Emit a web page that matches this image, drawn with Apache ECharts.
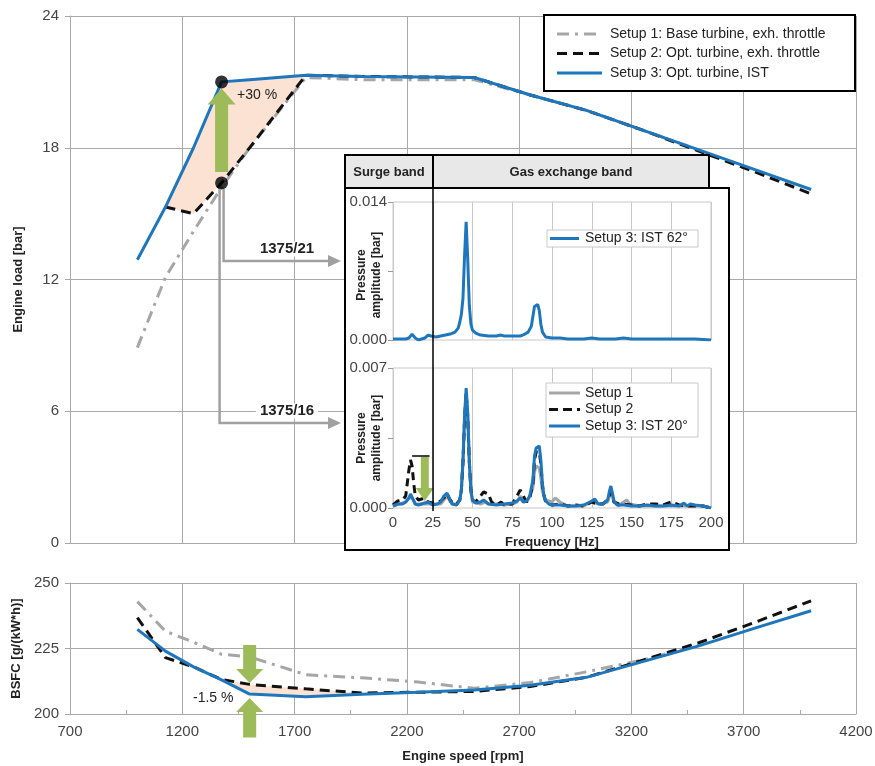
<!DOCTYPE html>
<html><head><meta charset="utf-8">
<script src="https://cdn.jsdelivr.net/npm/echarts@6/dist/echarts.min.js"></script>
<style>html,body{margin:0;padding:0;background:#fff}#c{width:875px;height:766px}</style>
</head><body><div id="c"></div>
<script>
// ---------- DATA ----------
const speedTicks = [700, 4200, 500];          // min, max, step (rpm)
const loadTicks = [0, 24, 6];                 // bar
const bsfcTicks = [200, 250, 25];             // g/(kW*h)
const freqTicks = [0, 200, 25];               // Hz
const ampTicksTop = [0, 0.014, 0.007];
const ampTicksBot = [0, 0.007, 0.0035];

const speedLoad  = [1000, 1125, 1250, 1375, 1500, 1750, 2000, 2500, 2750, 3000, 3250, 3500, 3750, 4000];
const loadSetup1 = [8.9, 12.1, 14.2, 16.2, 18.0, 21.2, 21.1, 21.1, 20.4, 19.7, 18.8, 17.9, null, null];
const loadSetup2 = [null, 15.3, 15.0, 16.4, 18.0, 21.3, 21.25, 21.2, 20.4, 19.7, 18.8, 17.85, 16.9, 15.9];
const loadSetup3 = [12.9, 15.3, 18.0, 21.0, 21.1, 21.3, 21.25, 21.2, 20.4, 19.7, 18.8, 17.9, 17.0, 16.1];

const speedBsfc  = [1000, 1125, 1250, 1375, 1500, 1750, 2000, 2250, 2500, 2750, 3000, 3250, 3500, 3750, 4000];
const bsfcSetup1 = [242.9, 231.6, 227.4, 222.8, 221.8, 215.0, 213.8, 212.2, 209.8, 212.0, 216.1, 220.6, 226.4, null, null];
const bsfcSetup2 = [236.8, 221.5, 218.0, 213.2, 211.3, 209.6, 208.0, 208.3, 208.6, 210.5, 214.0, 220.5, 227.2, 235.0, 243.2];
const bsfcSetup3 = [232.3, 224.0, 218.0, 213.0, 207.6, 206.6, 207.5, 208.3, 209.2, 211.0, 214.0, 220.0, 226.0, 232.8, 239.4];

const loadPoints = [[1375, 21.0], [1375, 16.4]];           // marked operating points
const loadArrow  = [[1375, 16.9, 20.7]];                    // speed, from, to
const bsfcArrows = [[1500, 226.3, 211.8], [1500, 191.0, 206.1]];
const surgeArrow = [[20, 0.00255, 0.00035]];
const surgeMark  = [[12, 0.0026], [23, 0.0026]];

const ist62 = [[0,0.0001],[5,0.0001],[8,0.0001],[10,0.0002],[12,0.0006],[14,0.0002],[16,0.0],[18,0.0001],[20,0.0002],[22,0.0005],[24,0.0004],[27,0.0003],[30,0.0004],[33,0.0005],[36,0.0006],[39,0.0008],[41,0.0012],[42,0.0018],[43,0.0026],[44,0.0042],[45,0.0085],[46,0.0120],[47,0.0082],[48,0.0035],[49,0.0016],[50,0.0010],[52,0.0007],[55,0.0005],[60,0.0004],[65,0.0004],[68,0.0005],[70,0.0004],[75,0.0004],[80,0.0004],[83,0.0006],[85,0.0008],[87,0.0014],[88,0.0024],[89,0.0034],[90,0.0036],[91,0.0036],[92,0.0030],[93,0.0016],[94,0.0008],[96,0.0003],[100,0.0002],[105,0.0002],[110,0.0001],[115,0.0001],[120,0.0001],[125,0.0002],[130,0.0001],[135,0.0001],[140,0.0001],[145,0.0002],[150,0.0001],[160,0.0001],[170,0.0001],[180,0.0001],[190,0.0001],[200,0.0]];

const spec1 = [[0,0.0001],[4,0.0002],[8,0.0003],[10,0.0005],[11,0.0006],[12,0.0005],[14,0.0002],[17,0.0002],[20,0.0002],[25,0.0002],[30,0.0002],[32,0.0004],[34,0.0006],[36,0.0003],[40,0.00015],[42,0.0004],[43,0.0009],[44,0.0022],[45,0.0043],[46,0.0056],[47,0.0045],[48,0.0022],[49,0.0008],[50,0.0003],[55,0.0002],[58,0.0003],[60,0.0002],[65,0.0002],[70,0.00015],[75,0.0002],[78,0.0003],[80,0.0006],[82,0.0003],[85,0.0004],[88,0.0010],[89,0.0018],[90,0.0021],[91,0.0022],[92,0.0020],[93,0.0015],[94,0.0008],[96,0.0004],[100,0.0003],[102,0.0005],[103,0.0006],[105,0.0003],[110,0.0001],[120,0.0001],[125,0.0003],[130,0.0002],[135,0.0003],[137,0.0008],[139,0.0003],[142,0.0001],[145,0.0003],[147,0.0004],[149,0.0002],[155,0.0001],[165,0.0001],[175,0.0001],[185,0.0001],[195,0.0001],[200,0.0]];

const spec2 = [[0,0.00015],[3,0.00035],[6,0.0004],[8,0.0006],[9,0.00125],[10,0.0019],[11,0.0024],[12,0.0021],[13,0.00125],[14,0.0006],[16,0.0004],[18,0.00045],[20,0.0005],[22,0.0003],[25,0.00025],[28,0.0003],[30,0.00035],[32,0.0005],[34,0.0007],[36,0.0004],[38,0.0002],[40,0.0002],[42,0.0004],[43,0.0009],[44,0.0023],[45,0.0044],[46,0.0058],[47,0.0046],[48,0.0023],[49,0.0009],[50,0.0004],[52,0.0003],[55,0.0006],[57,0.0008],[58,0.0009],[60,0.0007],[62,0.0003],[65,0.00015],[68,0.0003],[70,0.00015],[75,0.0002],[78,0.0006],[80,0.0009],[82,0.0006],[84,0.0003],[86,0.0005],[88,0.0012],[89,0.0024],[90,0.0028],[91,0.0029],[92,0.0028],[93,0.0022],[94,0.0011],[95,0.0006],[96,0.0003],[98,0.0002],[100,0.00015],[105,0.0002],[110,0.0001],[115,0.00015],[120,0.0001],[125,0.0003],[128,0.0002],[132,0.0002],[135,0.0004],[137,0.0008],[139,0.0003],[142,0.0002],[145,0.0002],[150,0.00015],[155,0.0001],[160,0.0002],[165,0.0002],[170,0.00015],[175,0.0003],[180,0.00015],[185,0.0001],[190,0.0001],[195,0.0001],[200,0.0]];

const spec3 = [[0,0.0001],[3,0.0002],[6,0.0002],[8,0.0003],[10,0.0005],[11,0.0007],[12,0.0006],[14,0.0002],[16,0.00015],[18,0.0002],[20,0.00025],[22,0.0003],[25,0.00015],[28,0.0002],[30,0.0003],[32,0.0006],[34,0.00075],[35,0.0007],[37,0.0002],[40,0.00015],[42,0.0004],[43,0.0009],[44,0.0024],[45,0.0046],[46,0.0060],[47,0.0048],[48,0.0024],[49,0.0009],[50,0.0004],[52,0.00025],[55,0.0003],[57,0.0004],[58,0.00035],[60,0.0002],[65,0.00015],[70,0.0002],[75,0.00025],[78,0.00035],[80,0.0005],[82,0.0003],[84,0.00035],[86,0.0006],[88,0.0014],[89,0.0026],[90,0.0030],[91,0.0031],[92,0.0031],[93,0.0024],[94,0.0012],[95,0.0006],[96,0.00035],[98,0.0002],[100,0.00015],[105,0.00015],[110,0.0001],[115,0.0001],[120,0.00015],[125,0.00035],[127,0.00045],[129,0.0002],[132,0.0002],[135,0.0004],[136,0.0008],[137,0.0011],[138,0.00075],[139,0.00035],[141,0.00015],[145,0.00015],[150,0.0001],[155,0.0001],[160,0.00015],[165,0.0001],[170,0.0001],[175,0.00015],[180,0.0001],[183,0.00025],[185,0.0001],[187,0.0002],[190,0.00015],[195,0.0001],[200,0.0]];

const legendMain = ['Setup 1: Base turbine, exh. throttle', 'Setup 2: Opt. turbine, exh. throttle', 'Setup 3: Opt. turbine, IST'];
const legendTop = ['Setup 3: IST 62°'];
const legendBot = ['Setup 1', 'Setup 2', 'Setup 3: IST 20°'];

// ---------- STYLE ----------
const FONT = '"Liberation Sans", Arial, sans-serif';
const C1 = '#A6A6A6', C2 = '#111111', C3 = '#1E77BD', GREEN = '#9DBB59', PEACH = '#FBE2D3';
const GRIDC = '#A8A8A8', CALL = '#A0A0A0';
const D1 = [12, 6, 3, 6], D2 = [10, 6];

const pairs = (xs, ys) => xs.map((x, i) => [x, ys[i]]).filter(p => p[1] != null);
const plain = v => String(v);

function arrowRender(shaft, head, headLen) {
  return function (params, api) {
    const x = api.value(0), v0 = api.value(1), v1 = api.value(2);
    const p0 = api.coord([x, v0]), p1 = api.coord([x, v1]);
    const dir = p1[1] < p0[1] ? -1 : 1;
    const cx = p0[0], yb = p1[1] - dir * headLen;
    const pts = [[cx - shaft / 2, p0[1]], [cx - shaft / 2, yb], [cx - head / 2, yb], [cx, p1[1]],
                 [cx + head / 2, yb], [cx + shaft / 2, yb], [cx + shaft / 2, p0[1]]];
    return { type: 'polygon', shape: { points: pts }, style: { fill: GREEN } };
  };
}
function shadeRender(xs, aYs, bYs, i0, i1) {
  return function (params, api) {
    const pts = [];
    for (let i = i0; i <= i1; i++) pts.push(api.coord([xs[i], aYs[i]]));
    for (let i = i1; i >= i0; i--) pts.push(api.coord([xs[i], bYs[i]]));
    return { type: 'polygon', shape: { points: pts }, style: { fill: PEACH } };
  };
}

const lbl = (size, extra) => Object.assign({ color: '#444', fontSize: size, fontFamily: FONT }, extra || {});
const nameStyle = { color: '#222', fontSize: 13, fontWeight: 'bold', fontFamily: FONT };

const chart = echarts.init(document.getElementById('c'), null, { renderer: 'canvas' });

const option = {
  animation: false,
  backgroundColor: '#fff',
  grid: [
    { left: 70, top: 16, width: 786, height: 527, outerBoundsMode: 'none' },
    { left: 70, top: 583, width: 786, height: 131, outerBoundsMode: 'none' },
    { left: 393, top: 202, width: 318, height: 138, show: true, borderColor: '#c8c8c8', borderWidth: 1, backgroundColor: 'rgba(0,0,0,0)', z: 50, outerBoundsMode: 'none' },
    { left: 393, top: 368, width: 318, height: 140, show: true, borderColor: '#c8c8c8', borderWidth: 1, backgroundColor: 'rgba(0,0,0,0)', z: 50, outerBoundsMode: 'none' }
  ],
  xAxis: [
    { gridIndex: 0, type: 'value', min: speedTicks[0], max: speedTicks[1], interval: speedTicks[2],
      axisLabel: { show: false }, axisTick: { show: false },
      axisLine: { show: true, lineStyle: { color: GRIDC } },
      splitLine: { show: true, lineStyle: { color: GRIDC, width: 1 } } },
    { gridIndex: 1, type: 'value', min: speedTicks[0], max: speedTicks[1], interval: speedTicks[2],
      name: 'Engine speed [rpm]', nameLocation: 'middle', nameGap: 36, nameTextStyle: nameStyle,
      axisLabel: lbl(15, { margin: 10, formatter: plain }),
      axisTick: { show: true, inside: true, length: 4, lineStyle: { color: GRIDC } },
      minorTick: { show: true, splitNumber: 2, length: 4, lineStyle: { color: GRIDC } },
      axisLine: { show: true, lineStyle: { color: GRIDC } },
      splitLine: { show: true, lineStyle: { color: GRIDC, width: 1 } } },
    { gridIndex: 2, type: 'value', min: freqTicks[0], max: freqTicks[1], interval: freqTicks[2], z: 50,
      axisLabel: { show: false }, axisTick: { show: false }, axisLine: { show: false },
      splitLine: { show: true, lineStyle: { color: '#c8c8c8' } } },
    { gridIndex: 3, type: 'value', min: freqTicks[0], max: freqTicks[1], interval: freqTicks[2], z: 50,
      name: 'Frequency [Hz]', nameLocation: 'middle', nameGap: 28, nameTextStyle: nameStyle,
      axisLabel: lbl(15, { margin: 7, formatter: plain }), axisTick: { show: false }, axisLine: { show: false },
      splitLine: { show: true, lineStyle: { color: '#c8c8c8' } } }
  ],
  yAxis: [
    { gridIndex: 0, type: 'value', min: loadTicks[0], max: loadTicks[1], interval: loadTicks[2],
      name: 'Engine load [bar]', nameLocation: 'middle', nameGap: 45, nameTextStyle: nameStyle,
      axisLabel: lbl(15, { margin: 11, formatter: plain }),
      axisTick: { show: true, length: 5, lineStyle: { color: GRIDC } },
      axisLine: { show: true, lineStyle: { color: GRIDC } },
      splitLine: { show: true, lineStyle: { color: GRIDC, width: 1 } } },
    { gridIndex: 1, type: 'value', min: bsfcTicks[0], max: bsfcTicks[1], interval: bsfcTicks[2],
      name: 'BSFC [g/(kW*h)]', nameLocation: 'middle', nameGap: 45, nameTextStyle: nameStyle,
      axisLabel: lbl(15, { margin: 11, formatter: plain }),
      axisTick: { show: true, length: 5, lineStyle: { color: GRIDC } },
      axisLine: { show: true, lineStyle: { color: GRIDC } },
      splitLine: { show: true, lineStyle: { color: GRIDC, width: 1 } } },
    { gridIndex: 2, type: 'value', min: ampTicksTop[0], max: ampTicksTop[1], interval: ampTicksTop[2], z: 50,
      axisLabel: lbl(15, { margin: 6, formatter: v => (v === 0 || v === ampTicksTop[1]) ? v.toFixed(3) : '' }),
      axisTick: { show: true, length: 5, lineStyle: { color: '#999' } },
      axisLine: { show: false }, splitLine: { show: false } },
    { gridIndex: 3, type: 'value', min: ampTicksBot[0], max: ampTicksBot[1], interval: ampTicksBot[2], z: 50,
      axisLabel: lbl(15, { margin: 6, formatter: v => (v === 0 || v === ampTicksBot[1]) ? v.toFixed(3) : '' }),
      axisTick: { show: true, length: 5, lineStyle: { color: '#999' } },
      axisLine: { show: false }, splitLine: { show: false } }
  ],
  series: [
    // top chart
    { type: 'custom', xAxisIndex: 0, yAxisIndex: 0, z: 1, silent: true,
      renderItem: shadeRender(speedLoad, loadSetup3, loadSetup2, 1, 5), data: [[speedLoad[1], loadSetup3[1]]] },
    { name: legendMain[0], type: 'line', xAxisIndex: 0, yAxisIndex: 0, z: 2, symbol: 'none',
      lineStyle: { color: C1, width: 3, type: D1 }, data: pairs(speedLoad, loadSetup1) },
    { name: legendMain[1], type: 'line', xAxisIndex: 0, yAxisIndex: 0, z: 3, symbol: 'none',
      lineStyle: { color: C2, width: 3, type: D2 }, data: pairs(speedLoad, loadSetup2) },
    { name: legendMain[2], type: 'line', xAxisIndex: 0, yAxisIndex: 0, z: 4, symbol: 'none',
      lineStyle: { color: C3, width: 3 }, data: pairs(speedLoad, loadSetup3) },
    { type: 'custom', xAxisIndex: 0, yAxisIndex: 0, z: 5, silent: true,
      renderItem: arrowRender(13, 28, 16), data: loadArrow },
    { type: 'scatter', xAxisIndex: 0, yAxisIndex: 0, z: 6, symbolSize: 13,
      itemStyle: { color: '#000' }, data: loadPoints },
    // bottom chart
    { type: 'custom', xAxisIndex: 1, yAxisIndex: 1, z: 1, silent: true,
      renderItem: shadeRender(speedBsfc, bsfcSetup2, bsfcSetup3, 3, 6), data: [[speedBsfc[3], bsfcSetup2[3]]] },
    { type: 'line', xAxisIndex: 1, yAxisIndex: 1, z: 2, symbol: 'none',
      lineStyle: { color: C1, width: 3, type: D1 }, data: pairs(speedBsfc, bsfcSetup1) },
    { type: 'line', xAxisIndex: 1, yAxisIndex: 1, z: 3, symbol: 'none',
      lineStyle: { color: C2, width: 3, type: D2 }, data: pairs(speedBsfc, bsfcSetup2) },
    { type: 'line', xAxisIndex: 1, yAxisIndex: 1, z: 4, symbol: 'none',
      lineStyle: { color: C3, width: 3 }, data: pairs(speedBsfc, bsfcSetup3) },
    { type: 'custom', xAxisIndex: 1, yAxisIndex: 1, z: 5, silent: true, clip: false,
      renderItem: arrowRender(13, 27, 14), data: bsfcArrows },
    // inset top
    { type: 'line', xAxisIndex: 2, yAxisIndex: 2, z: 55, symbol: 'none',
      lineStyle: { color: C3, width: 3 }, data: ist62 },
    // inset bottom
    { type: 'line', xAxisIndex: 3, yAxisIndex: 3, z: 55, symbol: 'none',
      lineStyle: { color: C1, width: 3 }, data: spec1 },
    { type: 'line', xAxisIndex: 3, yAxisIndex: 3, z: 56, symbol: 'none',
      lineStyle: { color: C2, width: 3, type: [8, 5] }, data: spec2 },
    { type: 'line', xAxisIndex: 3, yAxisIndex: 3, z: 57, symbol: 'none',
      lineStyle: { color: C3, width: 3 }, data: spec3 },
    { type: 'line', xAxisIndex: 3, yAxisIndex: 3, z: 58, symbol: 'none',
      lineStyle: { color: '#000', width: 1.5 }, data: surgeMark },
    { type: 'custom', xAxisIndex: 3, yAxisIndex: 3, z: 59, silent: true,
      renderItem: arrowRender(8, 18, 13), data: surgeArrow }
  ],
  graphic: []
};

chart.setOption(option);

// ---------- annotations (legends, inset frame, callouts) ----------
const G = [];
const T = (x, y, text, font, extra) => Object.assign({ type: 'text', x: x, y: y, z: 80,
  style: Object.assign({ text: text, font: font, fill: '#222', align: 'left', textAlign: 'left',
    verticalAlign: 'middle', textVerticalAlign: 'middle' }, extra || {}) });

// main legend
G.push({ type: 'rect', z: 30, shape: { x: 544, y: 15, width: 311, height: 76 }, style: { fill: '#fff', stroke: '#000', lineWidth: 2 } });
[[C1, D1], [C2, D2], [C3, null]].forEach((s, i) => {
  const y = 34 + i * 19.5;
  G.push({ type: 'line', z: 31, shape: { x1: 557, y1: y, x2: 602, y2: y }, style: { stroke: s[0], lineWidth: 3, lineDash: s[1] } });
  const t = T(610, y, legendMain[i], '14px ' + FONT); t.z = 31; G.push(t);
});

// inset frame and header
G.push({ type: 'rect', z: 40, shape: { x: 345, y: 188, width: 384, height: 362 }, style: { fill: '#fff', stroke: '#000', lineWidth: 2 } });
G.push({ type: 'rect', z: 40, shape: { x: 345, y: 155, width: 88, height: 33 }, style: { fill: '#E8E8E8', stroke: '#000', lineWidth: 2 } });
G.push({ type: 'rect', z: 40, shape: { x: 433, y: 155, width: 276, height: 33 }, style: { fill: '#E8E8E8', stroke: '#000', lineWidth: 2 } });
G.push(T(389, 172, 'Surge band', 'bold 13px ' + FONT, { align: 'center', textAlign: 'center' }));
G.push(T(571, 172, 'Gas exchange band', 'bold 13px ' + FONT, { align: 'center', textAlign: 'center' }));
G.push({ type: 'line', z: 70, shape: { x1: 433, y1: 155, x2: 433, y2: 511 }, style: { stroke: '#000', lineWidth: 1.5 } });

// inset y titles
[275, 438].forEach(y => {
  G.push({ type: 'text', x: 369, y: y, rotation: Math.PI / 2, z: 80,
    style: { text: 'Pressure\namplitude [bar]', font: 'bold 12px ' + FONT, fill: '#222', lineHeight: 15,
      align: 'center', textAlign: 'center', verticalAlign: 'middle', textVerticalAlign: 'middle' } });
});

// inset legends
G.push({ type: 'rect', z: 75, shape: { x: 547, y: 230, width: 151, height: 17 }, style: { fill: '#fff', stroke: '#c8c8c8', lineWidth: 1 } });
G.push({ type: 'line', z: 76, shape: { x1: 550, y1: 238.5, x2: 579, y2: 238.5 }, style: { stroke: C3, lineWidth: 3 } });
G.push(T(585, 238.5, legendTop[0], '14px ' + FONT));
G.push({ type: 'rect', z: 75, shape: { x: 546, y: 383, width: 152, height: 54 }, style: { fill: '#fff', stroke: '#c8c8c8', lineWidth: 1 } });
[[C1, null], [C2, [9, 5]], [C3, null]].forEach((s, i) => {
  const y = 393 + i * 16.5;
  G.push({ type: 'line', z: 76, shape: { x1: 549, y1: y, x2: 580, y2: y }, style: { stroke: s[0], lineWidth: 3, lineDash: s[1] } });
  G.push(T(585, y, legendBot[i], '14px ' + FONT));
});

// callout arrows from operating point to inset
const p = chart.convertToPixel({ xAxisIndex: 0, yAxisIndex: 0 }, loadPoints[1]);
const calls = [[p[0] + 2, 261, '1375/21'], [p[0] - 2, 423, '1375/16']];
calls.forEach(c => {
  G.push({ type: 'polyline', z: 20, shape: { points: [[c[0], p[1] + 6], [c[0], c[1]], [330, c[1]]] },
    style: { stroke: CALL, lineWidth: 2.5, fill: null } });
  G.push({ type: 'polygon', z: 20, shape: { points: [[328, c[1] - 6], [341, c[1]], [328, c[1] + 6]] }, style: { fill: CALL } });
  G.push(T(287, c[1] - 12, c[2], 'bold 15px ' + FONT, { align: 'center', textAlign: 'center', backgroundColor: '#fff', padding: [0, 4] }));
});

// percentages
G.push(T(237, 95, '+30 %', '14px ' + FONT));
G.push(T(193, 698, '-1.5 %', '14px ' + FONT));

chart.setOption({ graphic: G });
</script>
</body></html>
